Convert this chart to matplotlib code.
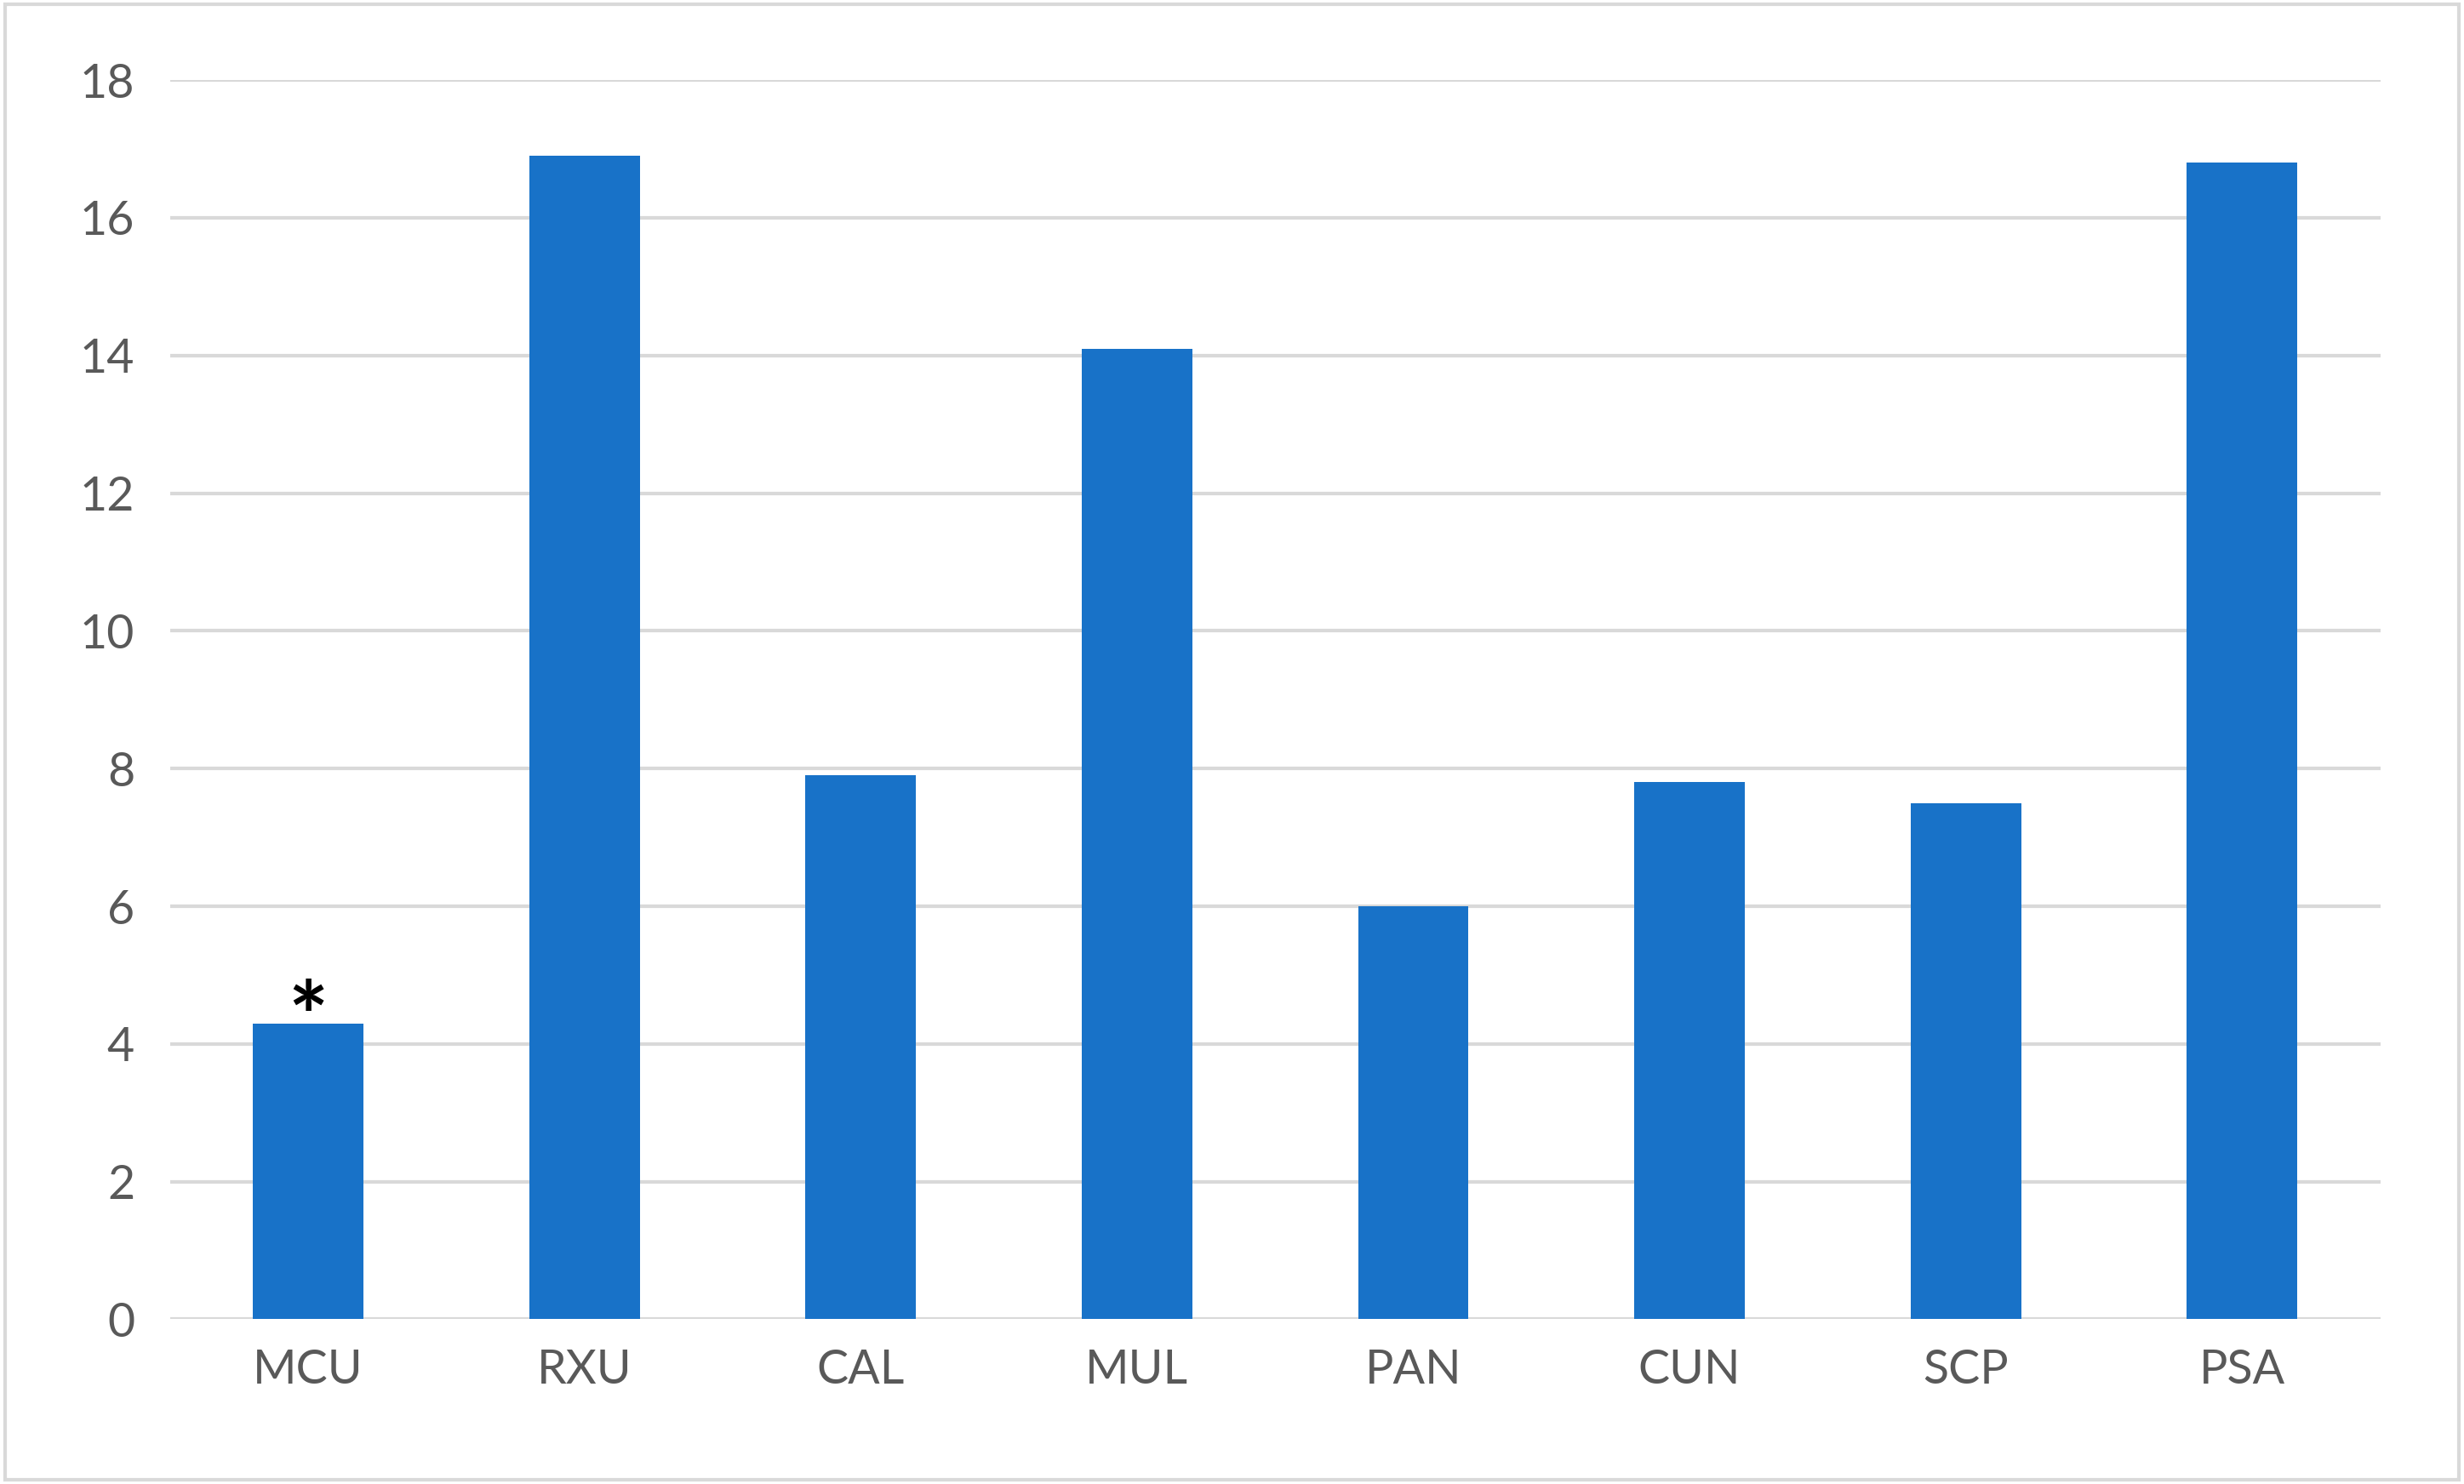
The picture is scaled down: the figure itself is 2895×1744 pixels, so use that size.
import matplotlib
matplotlib.use("Agg")
import matplotlib.pyplot as plt
from matplotlib.patches import Rectangle

categories = ["MCU", "RXU", "CAL", "MUL", "PAN", "CUN", "SCP", "PSA"]
values = [4.3, 16.9, 7.9, 14.1, 6.0, 7.8, 7.5, 16.8]
yticks = [0, 2, 4, 6, 8, 10, 12, 14, 16, 18]

plt.rcParams['font.family'] = ['Lato', 'DejaVu Sans']
fig = plt.figure(figsize=(28.95, 17.44), dpi=100)
ax = fig.add_axes([0.069, 0.111, 0.897, 0.835])
x = range(len(categories))
ax.bar(x, values, width=0.4, color="#1872C8", zorder=3)
ax.set_xlim(-0.5, len(categories) - 0.5)
ax.set_ylim(0, 18)
ax.set_yticks(yticks)
ax.set_xticks(list(x))
ax.set_xticklabels(categories)
ax.grid(axis="y", color="#D9D9D9", linewidth=3, zorder=0)
for s in ax.spines.values():
    s.set_visible(False)
ax.tick_params(length=0, labelsize=40, labelcolor="#595959", pad=25)
ax.tick_params(axis="y", pad=30)
ax.text(0, values[0], "*", ha="center", va="center", fontsize=80,
        color="black", zorder=4, fontweight="bold")
fig.patches.append(Rectangle((0.002, 0.003), 0.996, 0.994, transform=fig.transFigure,
                             fill=False, edgecolor="#D9D9D9", linewidth=3))
fig.savefig("out.png", dpi=100)
